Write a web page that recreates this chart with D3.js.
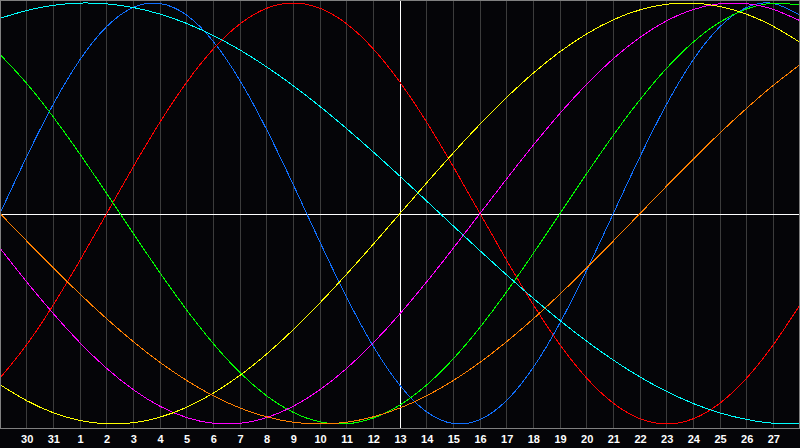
<!DOCTYPE html>
<html>
<head>
<meta charset="utf-8">
<script src="https://cdn.jsdelivr.net/npm/d3@7"></script>
<style>
  html, body { margin: 0; padding: 0; background: #000; }
  svg { display: block; }
</style>
</head>
<body>
<script>
// day labels along the bottom (first and last fall on the frame edges)
const days = ["29", "30", "31", "1", "2", "3", "4", "5", "6", "7", "8", "9", "10", "11", "12",
  "13", "14", "15", "16", "17", "18", "19", "20", "21", "22", "23", "24", "25", "26", "27", "28"];
const today = 15; // index of "13", the white cross

// daily values, -1 .. 1
const physical = [0, 0.2698, 0.5196, 0.7308, 0.8879, 0.9790, 0.9977, 0.9423, 0.8170, 0.6311, 0.3984,
  0.1362, -0.1362, -0.3984, -0.6311, -0.8170, -0.9423, -0.9977, -0.9790, -0.8879, -0.7308,
  -0.5196, -0.2698, 0, 0.2698, 0.5196, 0.7308, 0.8879, 0.9790, 0.9977, 0.9423];
const emotional = [-0.7818, -0.6235, -0.4339, -0.2225, 0, 0.2225, 0.4339, 0.6235, 0.7818, 0.9010, 0.9749,
  1, 0.9749, 0.9010, 0.7818, 0.6235, 0.4339, 0.2225, 0, -0.2225, -0.4339,
  -0.6235, -0.7818, -0.9010, -0.9749, -1, -0.9749, -0.9010, -0.7818, -0.6235, -0.4339];
const intellectual = [0.7557, 0.6182, 0.4582, 0.2817, 0.0951, -0.0951, -0.2817, -0.4582, -0.6182, -0.7557, -0.8660,
  -0.9450, -0.9898, -0.9989, -0.9718, -0.9096, -0.8146, -0.6900, -0.5406, -0.3717, -0.1893,
  0, 0.1893, 0.3717, 0.5406, 0.6900, 0.8146, 0.9096, 0.9718, 0.9989, 0.9898];
const intuitive = [-0.1646, -0.3247, -0.4759, -0.6142, -0.7357, -0.8372, -0.9158, -0.9694, -0.9966, -0.9966, -0.9694,
  -0.9158, -0.8372, -0.7357, -0.6142, -0.4759, -0.3247, -0.1646, 0, 0.1646, 0.3247,
  0.4759, 0.6142, 0.7357, 0.8372, 0.9158, 0.9694, 0.9966, 0.9966, 0.9694, 0.9158];
const aesthetic = [-0.8133, -0.8891, -0.9465, -0.9833, -0.9993, -0.9940, -0.9675, -0.9205, -0.8533, -0.7687, -0.6673,
  -0.5517, -0.4244, -0.2881, -0.1456, 0, 0.1456, 0.2881, 0.4244, 0.5517, 0.6673,
  0.7687, 0.8533, 0.9205, 0.9675, 0.9940, 0.9993, 0.9833, 0.9465, 0.8891, 0.8133];
const awareness = [0, -0.1305, -0.2588, -0.3827, -0.5, -0.6088, -0.7071, -0.7934, -0.8660, -0.9239, -0.9659,
  -0.9914, -1, -0.9914, -0.9659, -0.9239, -0.8660, -0.7934, -0.7071, -0.6088, -0.5,
  -0.3827, -0.2588, -0.1305, 0, 0.1305, 0.2588, 0.3827, 0.5, 0.6088, 0.7071];
const spiritual = [0.9268, 0.9646, 0.9891, 0.9996, 0.9961, 0.9785, 0.9473, 0.9028, 0.8454, 0.7767, 0.6965,
  0.6068, 0.5085, 0.4031, 0.2920, 0.1769, 0.0592, -0.0592, -0.1769, -0.2920, -0.4031,
  -0.5085, -0.6068, -0.6965, -0.7767, -0.8454, -0.9028, -0.9473, -0.9785, -0.9961, -0.9996];

const series = [
  { values: physical, color: "#1070ff" },
  { values: emotional, color: "#ff0000" },
  { values: intellectual, color: "#00ff00" },
  { values: intuitive, color: "#ff00ff" },
  { values: aesthetic, color: "#ffff00" },
  { values: awareness, color: "#ff8000" },
  { values: spiritual, color: "#00ffff" }
];

const width = 800, height = 448;
const plotBottom = 428;

const x = d3.scaleLinear().domain([0, days.length - 1]).range([0, width]);
const y = d3.scaleLinear().domain([-1, 1]).range([424, 3]);

const svg = d3.select("body").append("svg")
  .attr("width", width)
  .attr("height", height);

//background
svg.append("rect")
  .attr("width", width)
  .attr("height", height)
  .attr("fill", "#050508");

//day grid
const inner = d3.range(1, days.length - 1);
svg.append("g")
  .selectAll("line")
  .data(inner.filter(i => i !== today))
  .join("line")
  .attr("x1", i => Math.floor(x(i)) + 0.5)
  .attr("x2", i => Math.floor(x(i)) + 0.5)
  .attr("y1", 0)
  .attr("y2", plotBottom)
  .attr("stroke", "#3c3c3c")
  .attr("shape-rendering", "crispEdges");

//white cross for today
svg.append("line")
  .attr("x1", Math.floor(x(today)) + 0.5)
  .attr("x2", Math.floor(x(today)) + 0.5)
  .attr("y1", 0)
  .attr("y2", plotBottom)
  .attr("stroke", "#ffffff")
  .attr("shape-rendering", "crispEdges");

svg.append("line")
  .attr("x1", 0)
  .attr("x2", width)
  .attr("y1", Math.round(y(0)) + 0.5)
  .attr("y2", Math.round(y(0)) + 0.5)
  .attr("stroke", "#ffffff")
  .attr("shape-rendering", "crispEdges");

//curves
const line = d3.line()
  .x((d, i) => x(i))
  .y(d => y(d))
  .curve(d3.curveNatural);

svg.append("g")
  .selectAll("path")
  .data(series)
  .join("path")
  .attr("d", s => line(s.values))
  .attr("fill", "none")
  .attr("stroke", s => s.color)
  .attr("stroke-width", 1)
  .attr("shape-rendering", "crispEdges");

//frame
svg.append("rect")
  .attr("x", 0.5)
  .attr("y", 0.5)
  .attr("width", width - 1)
  .attr("height", plotBottom)
  .attr("fill", "none")
  .attr("stroke", "#808080")
  .attr("shape-rendering", "crispEdges");

//day labels
const axis = d3.axisBottom(x)
  .tickValues(inner)
  .tickSize(0)
  .tickPadding(7)
  .tickFormat(i => days[i]);

const gAxis = svg.append("g")
  .attr("transform", `translate(0,${plotBottom})`)
  .call(axis);

gAxis.select(".domain").remove();
gAxis.selectAll("text")
  .attr("fill", "#ffffff")
  .attr("font-family", "Liberation Sans, Arial, sans-serif")
  .attr("font-weight", "bold")
  .attr("font-size", 11);
</script>
</body>
</html>
